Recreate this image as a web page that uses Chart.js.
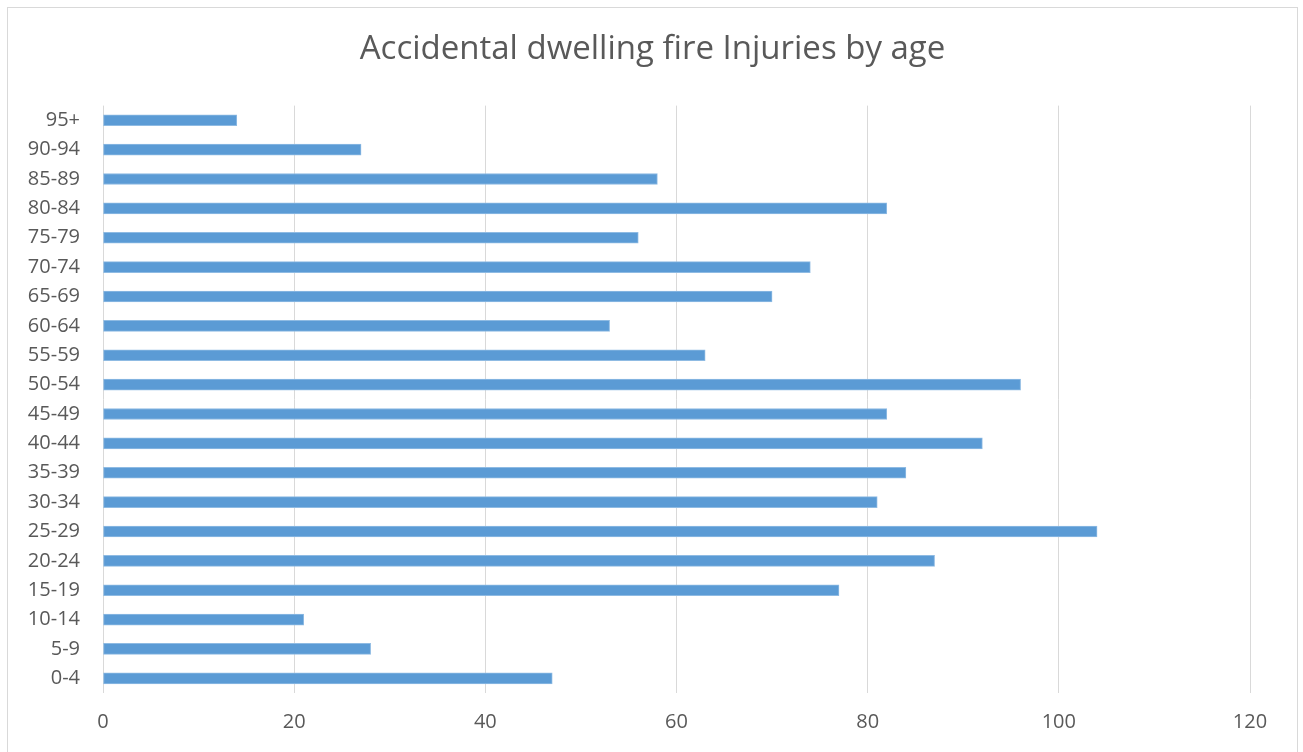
<!DOCTYPE html>
<html lang="en">
<head>
  <meta charset="UTF-8">
  <title>Accidental dwelling fire Injuries by age</title>
  <style>
    html, body { margin: 0; padding: 0; background: #fff; overflow: hidden; }
    #frame {
      position: absolute; left: 7px; top: 7px;
      width: 1289px; height: 760px;
      border: 1px solid #d9d9d9; background: #fff;
    }
    #wrap { position: absolute; left: 0; top: 0; width: 1289px; height: 744px; }
  </style>
</head>
<body>

<div id="frame">
  <div id="wrap"><canvas id="myChart"></canvas></div>
</div>

<script src="https://cdn.jsdelivr.net/npm/chart.js"></script>

<script>
  // age bands, bottom to top as in the original
  const ageBands = ['0-4', '5-9', '10-14', '15-19', '20-24', '25-29', '30-34', '35-39', '40-44', '45-49',
                    '50-54', '55-59', '60-64', '65-69', '70-74', '75-79', '80-84', '85-89', '90-94', '95+'];
  const injuries = [47, 28, 21, 77, 87, 104, 81, 84, 92, 82,
                    96, 63, 53, 70, 74, 56, 82, 58, 27, 14];
  const xTicks = [0, 20, 40, 60, 80, 100, 120];

  const fontFamily = "'Open Sans', 'Noto Sans', sans-serif";
  const textColor = '#595959';

  const ctx = document.getElementById('myChart').getContext('2d');
  const myChart = new Chart(ctx, {
    type: 'bar',
    data: {
      labels: ageBands,
      datasets: [{
        label: 'Injuries',
        data: injuries,
        backgroundColor: '#5b9bd5',
        borderColor: '#8fbbe3',
        borderWidth: 1,
        borderSkipped: false,
        barThickness: 11
      }]
    },
    options: {
      indexAxis: 'y',
      responsive: true,
      maintainAspectRatio: false,
      animation: false,
      layout: { padding: 0 },
      plugins: {
        legend: { display: false },
        tooltip: { enabled: false },
        title: {
          display: true,
          text: 'Accidental dwelling fire Injuries by age',
          color: textColor,
          font: { family: fontFamily, size: 33, weight: 'normal' },
          padding: { top: 22, bottom: 36 }
        }
      },
      scales: {
        x: {
          min: 0,
          max: 120,
          afterBuildTicks: axis => { axis.ticks = xTicks.map(v => ({ value: v })); },
          afterFit: axis => { axis.height = 59; },
          grid: { color: '#d9d9d9', lineWidth: 1, drawTicks: false },
          border: { display: false },
          ticks: { color: textColor, padding: 17, font: { family: fontFamily, size: 20 } }
        },
        y: {
          reverse: true,
          afterFit: axis => { axis.width = 95; },
          grid: { display: false, drawTicks: false },
          border: { display: false },
          ticks: { color: textColor, padding: 23, autoSkip: false, font: { family: fontFamily, size: 20 } }
        },
        // empty right-hand spacer so the title stays centred on the frame
        spacer: {
          type: 'linear',
          position: 'right',
          afterFit: axis => { axis.width = 47; },
          grid: { display: false, drawTicks: false },
          border: { display: false },
          ticks: { display: false }
        }
      }
    }
  });
</script>
</body>
</html>
